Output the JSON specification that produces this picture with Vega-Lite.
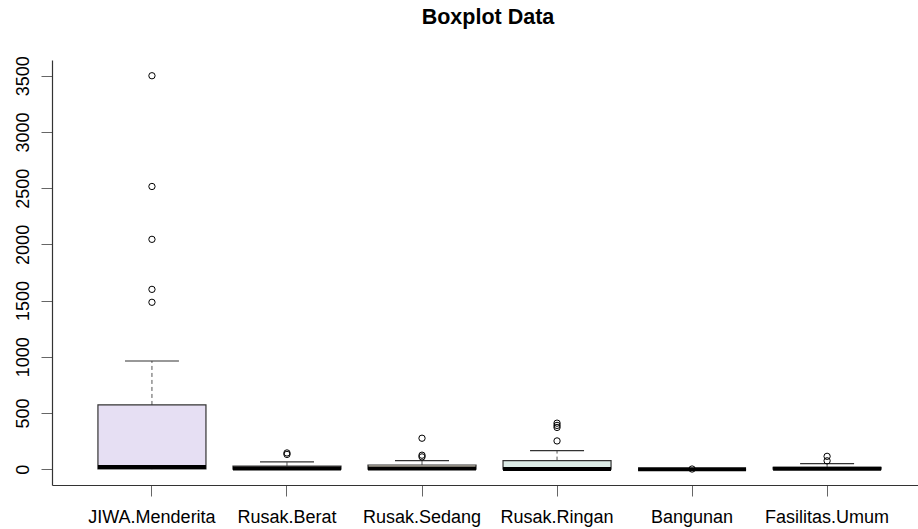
{
  "$schema": "https://vega.github.io/schema/vega-lite/v6.json",
  "width": 866,
  "height": 425,
  "autosize": {"type": "none"},
  "padding": {"left": 52, "top": 60, "right": 0, "bottom": 44},
  "background": "white",
  "config": {
    "view": {"stroke": null},
    "font": "Liberation Sans"
  },
  "title": {
    "text": "Boxplot Data",
    "font": "Liberation Sans",
    "fontSize": 21.5,
    "fontWeight": "bold",
    "color": "black",
    "anchor": "middle",
    "frame": "group",
    "baseline": "bottom",
    "offset": 5,
    "dx": 3
  },
  "datasets": {
    "stats": [
      {"var": "JIWA.Menderita", "lower": 0, "q1": 3, "median": 20, "q3": 572, "upper": 963},
      {"var": "Rusak.Berat", "lower": 0, "q1": 0, "median": 6, "q3": 28, "upper": 65},
      {"var": "Rusak.Sedang", "lower": 0, "q1": 0, "median": 6, "q3": 38, "upper": 77},
      {"var": "Rusak.Ringan", "lower": 0, "q1": 0, "median": 3, "q3": 77, "upper": 165},
      {"var": "Bangunan", "lower": 0, "q1": 0, "median": 0, "q3": 0, "upper": 0},
      {"var": "Fasilitas.Umum", "lower": 0, "q1": 0, "median": 4, "q3": 16, "upper": 50}
    ],
    "outliers": [
      {"var": "JIWA.Menderita", "value": 3500},
      {"var": "JIWA.Menderita", "value": 2515},
      {"var": "JIWA.Menderita", "value": 2045},
      {"var": "JIWA.Menderita", "value": 1600},
      {"var": "JIWA.Menderita", "value": 1485},
      {"var": "Rusak.Berat", "value": 132},
      {"var": "Rusak.Berat", "value": 145},
      {"var": "Rusak.Sedang", "value": 276},
      {"var": "Rusak.Sedang", "value": 110},
      {"var": "Rusak.Sedang", "value": 125},
      {"var": "Rusak.Ringan", "value": 252},
      {"var": "Rusak.Ringan", "value": 372},
      {"var": "Rusak.Ringan", "value": 390},
      {"var": "Rusak.Ringan", "value": 410},
      {"var": "Bangunan", "value": 2},
      {"var": "Fasilitas.Umum", "value": 75},
      {"var": "Fasilitas.Umum", "value": 115}
    ]
  },
  "encoding": {
    "x": {
      "field": "var",
      "type": "nominal",
      "sort": ["JIWA.Menderita", "Rusak.Berat", "Rusak.Sedang", "Rusak.Ringan", "Bangunan", "Fasilitas.Umum"],
      "scale": {
        "type": "band",
        "domain": ["JIWA.Menderita", "Rusak.Berat", "Rusak.Sedang", "Rusak.Ringan", "Bangunan", "Fasilitas.Umum"],
        "paddingInner": 0.2,
        "paddingOuter": 0.3067,
        "align": 0.5546
      },
      "axis": {
        "title": null,
        "labelAngle": 0,
        "labelFontSize": 18,
        "labelColor": "black",
        "labelPadding": 12,
        "tickSize": 11,
        "tickColor": "#666666",
        "domainColor": "#333333",
        "domainWidth": 1.2,
        "grid": false
      }
    }
  },
  "layer": [
    {
      "data": {"name": "stats"},
      "mark": {"type": "rule", "color": "#555555", "strokeDash": [4, 3], "strokeWidth": 1},
      "encoding": {
        "y": {
          "field": "q3",
          "type": "quantitative",
          "scale": {"domain": [-140, 3640], "nice": false, "zero": false},
          "axis": {
            "title": null,
            "values": [0, 500, 1000, 1500, 2000, 2500, 3000, 3500],
            "format": "d",
            "labelAngle": 270,
            "labelAlign": "center",
            "labelBaseline": "bottom",
            "labelFontSize": 18,
            "labelColor": "black",
            "labelPadding": 9,
            "labelFlush": false,
            "labelOverlap": false,
            "tickSize": 11,
            "tickColor": "#666666",
            "domainColor": "#333333",
            "domainWidth": 1.2,
            "grid": false
          }
        },
        "y2": {"field": "upper"}
      }
    },
    {
      "data": {"name": "stats"},
      "mark": {"type": "rule", "color": "#555555", "strokeDash": [4, 3], "strokeWidth": 1},
      "encoding": {
        "y": {"field": "lower", "type": "quantitative"},
        "y2": {"field": "q1"}
      }
    },
    {
      "data": {"name": "stats"},
      "mark": {"type": "tick", "color": "#333333", "size": 54, "thickness": 1.2, "opacity": 1},
      "encoding": {
        "y": {"field": "upper", "type": "quantitative"}
      }
    },
    {
      "data": {"name": "stats"},
      "mark": {"type": "bar", "stroke": "#333333", "strokeWidth": 1.2, "opacity": 1},
      "encoding": {
        "y": {"field": "q1", "type": "quantitative"},
        "y2": {"field": "q3"},
        "fill": {
          "field": "var",
          "type": "nominal",
          "legend": null,
          "scale": {
            "domain": ["JIWA.Menderita", "Rusak.Berat", "Rusak.Sedang", "Rusak.Ringan", "Bangunan", "Fasilitas.Umum"],
            "range": ["#E6DFF3", "#F3E3E3", "#F2EAD8", "#DCECE7", "#E1E6F3", "#F0F0DA"]
          }
        }
      }
    },
    {
      "data": {"name": "stats"},
      "mark": {"type": "tick", "color": "black", "size": 108, "thickness": 4, "opacity": 1},
      "encoding": {
        "y": {"field": "median", "type": "quantitative"}
      }
    },
    {
      "data": {"name": "outliers"},
      "mark": {"type": "point", "shape": "circle", "filled": false, "stroke": "black", "strokeWidth": 1, "size": 40, "opacity": 1},
      "encoding": {
        "y": {"field": "value", "type": "quantitative"}
      }
    },
    {
      "mark": {"type": "rule", "color": "#333333", "strokeWidth": 1.2},
      "encoding": {"y": {"datum": 3640}}
    }
  ]
}
